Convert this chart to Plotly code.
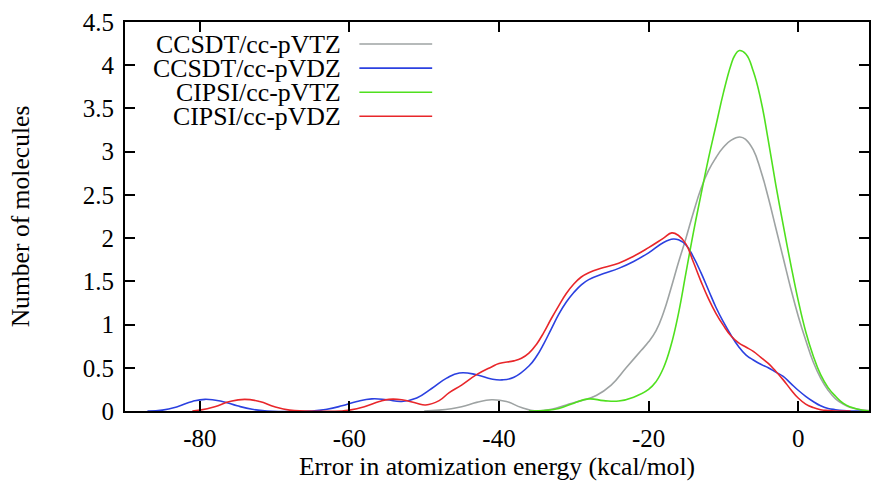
import plotly.graph_objects as go

# ---------------- data ----------------
series_names = ["CCSDT/cc-pVTZ", "CCSDT/cc-pVDZ", "CIPSI/cc-pVTZ", "CIPSI/cc-pVDZ"]
series_colors = ["#9ea3a3", "#2b40e0", "#4fe01e", "#e8262a"]

x_ccsdt_tz = [-50, -48, -45, -43, -41, -39, -37, -35, -33, -31, -29, -27, -25, -23, -21,
              -20, -19, -18, -17, -16, -15, -14, -13, -12, -11, -10, -9, -7.8, -7, -6, -5,
              -4, -3, -2, -1, 0, 1, 2, 3, 4, 5, 6, 7, 8, 9.5]
y_ccsdt_tz = [0.0, 0.01, 0.05, 0.1, 0.13, 0.11, 0.04, 0.0, 0.02, 0.07, 0.12, 0.18, 0.3, 0.5, 0.7,
              0.8, 0.93, 1.14, 1.42, 1.72, 2.0, 2.3, 2.57, 2.78, 2.93, 3.05, 3.13, 3.17, 3.14, 3.02, 2.78,
              2.47, 2.12, 1.77, 1.42, 1.1, 0.82, 0.57, 0.38, 0.24, 0.14, 0.08, 0.04, 0.02, 0.005]

x_ccsdt_dz = [-87, -85, -83, -81, -79.3, -77, -75, -73, -71, -65, -63, -61, -59, -57, -55, -53,
              -51, -49, -47, -45.3, -43, -41, -39.6, -38, -36, -35, -34, -33, -32, -31, -30, -29,
              -28, -26, -24, -22, -20, -18, -16.7, -16, -15, -14, -13, -12, -11, -10, -9, -8, -7,
              -6, -5, -4, -3, -2, -1, 0, 1, 2, 3, 4, 5, 6, 7, 9]
y_ccsdt_dz = [0.0, 0.01, 0.05, 0.11, 0.135, 0.11, 0.06, 0.02, 0.0, 0.0, 0.02, 0.06, 0.11, 0.14, 0.13, 0.11,
              0.15, 0.26, 0.38, 0.44, 0.42, 0.37, 0.36, 0.39, 0.52, 0.63, 0.78, 0.95, 1.12, 1.26, 1.37, 1.46,
              1.52, 1.59, 1.65, 1.73, 1.83, 1.95, 1.99, 1.98, 1.92, 1.78, 1.6, 1.4, 1.2, 1.03, 0.88, 0.75, 0.65,
              0.59, 0.54, 0.5, 0.45, 0.4, 0.32, 0.24, 0.17, 0.11, 0.06, 0.03, 0.015, 0.005, 0.0, 0.0]

x_cipsi_tz = [-36, -34, -32, -30, -28, -26, -24, -22, -20, -19, -18, -17, -16, -15, -14, -13,
              -12, -11, -10, -9, -8.5, -7.87, -7, -6, -5, -4, -3, -2, -1, 0, 1, 2, 3, 4, 5, 6, 7,
              8, 9.5]
y_cipsi_tz = [0.0, 0.005, 0.03, 0.09, 0.14, 0.12, 0.115, 0.16, 0.25, 0.34, 0.5, 0.76, 1.13, 1.6, 2.07, 2.5,
              2.92, 3.3, 3.68, 4.0, 4.11, 4.17, 4.13, 3.93, 3.6, 3.13, 2.62, 2.15, 1.7, 1.28, 0.92, 0.64, 0.42,
              0.27, 0.17, 0.09, 0.045, 0.02, 0.0]

x_cipsi_dz = [-81, -80, -78, -76, -74, -72, -70, -68, -66, -61, -60, -58, -56, -54.7, -53, -51,
              -49.8, -48, -46.7, -45, -43, -41, -40, -38, -37, -36, -35, -34, -33, -32, -31, -30,
              -29, -28, -26, -24, -22, -20, -18, -16.9, -16, -15, -14, -13, -12, -11, -10, -9, -8,
              -7, -6, -5, -4, -3, -2, -1, 0, 1, 2, 3, 4, 5, 7]
y_cipsi_dz = [0.0, 0.01, 0.05, 0.11, 0.135, 0.11, 0.05, 0.01, 0.0, 0.0, 0.01, 0.05, 0.11, 0.135, 0.13, 0.09,
              0.07, 0.12, 0.21, 0.3, 0.42, 0.51, 0.55, 0.58, 0.61, 0.67, 0.77, 0.91, 1.07, 1.22, 1.36, 1.47,
              1.55, 1.6, 1.66, 1.71, 1.79, 1.89, 2.0, 2.06, 2.03, 1.93, 1.72, 1.5, 1.3, 1.13, 0.99, 0.87, 0.79,
              0.74, 0.69, 0.62, 0.55, 0.46, 0.36, 0.25, 0.15, 0.08, 0.04, 0.015, 0.005, 0.0, 0.0]

series_x = [x_ccsdt_tz, x_ccsdt_dz, x_cipsi_tz, x_cipsi_dz]
series_y = [y_ccsdt_tz, y_ccsdt_dz, y_cipsi_tz, y_cipsi_dz]

x_tick_vals = [-80, -60, -40, -20, 0]
x_tick_text = ["-80", "-60", "-40", "-20", "0"]
y_tick_vals = [0, 0.5, 1, 1.5, 2, 2.5, 3, 3.5, 4, 4.5]
y_tick_text = ["0", "0.5", "1", "1.5", "2", "2.5", "3", "3.5", "4", "4.5"]

x_title = "Error in atomization energy (kcal/mol)"
y_title = "Number of molecules"

# ---------------- figure ----------------
FONT = "Liberation Serif"
W, H = 871, 485
ML, MR, MT, MB = 125, 0, 22, 74

fig = go.Figure()
for name, col, xs, ys in zip(series_names, series_colors, series_x, series_y):
    fig.add_trace(go.Scatter(
        x=xs, y=ys, mode="lines", name=name,
        line=dict(color=col, width=1.6, shape="spline", smoothing=1.3),
        showlegend=False, hoverinfo="skip",
    ))

# gnuplot-style key: right-aligned label, sample line to the right
plot_w = W - ML - MR
plot_h = H - MT - MB
for i, (name, col) in enumerate(zip(series_names, series_colors)):
    py = 44 + i * 24.1
    yp = (H - MB - py) / plot_h
    fig.add_annotation(
        x=(344 - ML) / plot_w, y=yp, xref="paper", yref="paper",
        text=name, showarrow=False, xanchor="right", yanchor="middle",
        font=dict(family=FONT, size=25.8, color="black"),
    )
    fig.add_shape(
        type="line", xref="paper", yref="paper",
        x0=(360 - ML) / plot_w, x1=(433 - ML) / plot_w, y0=yp, y1=yp,
        line=dict(color=col, width=1.6),
    )

x_max = -90 + plot_w / 7.5

fig.update_layout(
    width=W, height=H,
    margin=dict(l=ML, r=MR, t=MT, b=MB, pad=0),
    paper_bgcolor="white", plot_bgcolor="white",
    font=dict(family=FONT, size=25, color="black"),
    xaxis=dict(
        range=[-90, x_max], tickvals=x_tick_vals, ticktext=x_tick_text,
        ticks="inside", ticklen=10, tickwidth=2, tickcolor="black",
        showline=True, linewidth=2, linecolor="black", mirror="ticks",
        showgrid=False, zeroline=False,
        tickfont=dict(family=FONT, size=25), ticklabelstandoff=4,
        title=dict(text=x_title, font=dict(family=FONT, size=25.6), standoff=1),
    ),
    yaxis=dict(
        range=[0, 4.5], tickvals=y_tick_vals, ticktext=y_tick_text,
        ticks="inside", ticklen=10, tickwidth=2, tickcolor="black",
        showline=True, linewidth=2, linecolor="black", mirror="ticks",
        showgrid=False, zeroline=False,
        tickfont=dict(family=FONT, size=25), ticklabelstandoff=4,
        title=dict(text=y_title, font=dict(family=FONT, size=25.6), standoff=46),
    ),
)

fig.write_html("out.html")
